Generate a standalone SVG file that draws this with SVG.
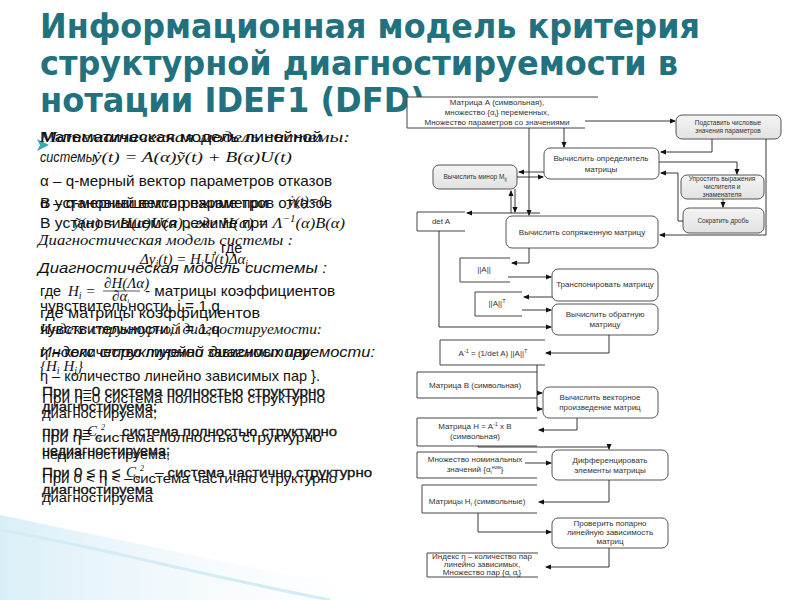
<svg xmlns="http://www.w3.org/2000/svg" width="800" height="600" viewBox="0 0 800 600">
<defs>
<marker id="ah" markerWidth="6" markerHeight="6" refX="5" refY="3" orient="auto" markerUnits="userSpaceOnUse"><path d="M0,0.5 L6,3 L0,5.5 Z" fill="#111"/></marker>
<linearGradient id="gbox" x1="0" y1="0" x2="0" y2="1"><stop offset="0" stop-color="#f4f4f4"/><stop offset="1" stop-color="#e2e2e2"/></linearGradient>
<linearGradient id="swoosh" x1="0" y1="0" x2="1" y2="0"><stop offset="0" stop-color="#bfe3f1"/><stop offset="1" stop-color="#ffffff" stop-opacity="0"/></linearGradient>
</defs>
<style>
.title{font-family:"DejaVu Sans",sans-serif;font-weight:bold;font-size:33px;fill:#21717e}
.t{font-family:"Liberation Sans",Arial,sans-serif;font-size:14.5px;fill:#111}
.ti{font-family:"Liberation Sans",Arial,sans-serif;font-size:15px;font-style:italic;fill:#111}
.m{font-family:"Liberation Serif","Times New Roman",serif;font-style:italic;font-size:15px;fill:#111}
.s{font-family:"Liberation Sans",Arial,sans-serif;font-size:13px;fill:#111}
.sb{font-family:"Liberation Sans",Arial,sans-serif;font-size:13px;fill:#111;stroke:#111;stroke-width:0.3}
.box{fill:#fff;stroke:#555;stroke-width:1}
.gbox{fill:url(#gbox);stroke:#555;stroke-width:1}
.store{fill:none;stroke:#444;stroke-width:1}
.lb{font-family:"Liberation Sans",Arial,sans-serif;font-size:8px;fill:#333;text-anchor:middle}
.lbs{font-family:"Liberation Sans",Arial,sans-serif;font-size:6.5px;fill:#333;text-anchor:middle}
.c{fill:none;stroke:#222;stroke-width:0.9;marker-end:url(#ah)}
</style>

<rect x="0" y="0" width="800" height="600" fill="#fff"/>

<!-- decorative swoosh -->
<path d="M0,515 C120,540 260,570 420,600 L0,600 Z" fill="url(#swoosh)" opacity="0.6"/>
<path d="M0,530 C90,545 200,575 330,600" fill="none" stroke="#d3ecf5" stroke-width="3"/>

<!-- title -->
<text class="title" x="40" y="38" textLength="660" lengthAdjust="spacingAndGlyphs">Информационная модель критерия</text>
<text class="title" x="40" y="75" textLength="638" lengthAdjust="spacingAndGlyphs">структурной диагностируемости в</text>
<text class="title" x="40" y="112" textLength="385" lengthAdjust="spacingAndGlyphs">нотации IDEF1 (DFD)</text>

<!-- left body text -->
<g id="body">
<path d="M37,139 L49,145 L37,151 L40,145 Z" fill="#3aa6b9"/>
<text class="m" x="40" y="142" textLength="310" lengthAdjust="spacingAndGlyphs">Математическая модель системы:</text>
<text class="t" x="40" y="142" textLength="282" lengthAdjust="spacingAndGlyphs">Математическая модель линейной</text>
<text class="ti" x="40" y="162" textLength="55" lengthAdjust="spacingAndGlyphs">системы</text>
<text class="m" x="93" y="162" textLength="199" lengthAdjust="spacingAndGlyphs">ẏ(t) = A(α)ỹ(t) + B(α)U(t)</text>
<text class="t" x="40" y="186" textLength="292" lengthAdjust="spacingAndGlyphs">α – q-мерный вектор параметров отказов</text>
<text class="t" x="40" y="208" textLength="292" lengthAdjust="spacingAndGlyphs">α – q-мерный вектор параметров отказов</text>
<text class="t" x="40" y="208" textLength="228" lengthAdjust="spacingAndGlyphs">В установившемся режиме при</text>
<text class="m" x="288" y="206">ẏ(t)=0</text>
<text class="t" x="40" y="228" textLength="228" lengthAdjust="spacingAndGlyphs">В установившемся режиме при</text>
<text class="m" x="73" y="228" textLength="272" lengthAdjust="spacingAndGlyphs">ỹ(α) = H(α)U(α) , где H(α) = Λ<tspan font-size="10" dy="-6">−1</tspan><tspan dy="6">(α)B(α)</tspan></text>
<text class="m" x="38" y="245" textLength="255" lengthAdjust="spacingAndGlyphs">Диагностическая модель системы :</text>
<text class="t" x="213" y="253" font-size="12">, где</text>
<text class="m" x="140" y="264">Δy<tspan font-size="10" dy="3">i</tspan><tspan dy="-3">(t) = H</tspan><tspan font-size="10" dy="3">i</tspan><tspan dy="-3">U(t)Δα</tspan><tspan font-size="10" dy="3">i</tspan></text>
<text class="ti" x="38" y="273" textLength="289" lengthAdjust="spacingAndGlyphs">Диагностическая модель системы :</text>
<text class="t" x="40" y="296">где</text>
<text class="m" x="68" y="296">H<tspan font-size="10" dy="3">i</tspan><tspan dy="-3"> =</tspan></text>
<text class="m" x="104" y="288" font-size="10">∂H(Λα)</text>
<line x1="103" y1="291" x2="140" y2="291" stroke="#111" stroke-width="0.7"/>
<text class="m" x="112" y="301" font-size="10">∂α<tspan font-size="7" dy="2">i</tspan></text>
<text class="t" x="145" y="296" textLength="190" lengthAdjust="spacingAndGlyphs">- матрицы коэффициентов</text>
<text class="t" x="40" y="311" textLength="180" lengthAdjust="spacingAndGlyphs">чувствительности, i = 1,q</text>
<text class="t" x="40" y="318" textLength="220" lengthAdjust="spacingAndGlyphs">где     матрицы коэффициентов</text>
<text class="t" x="40" y="334" textLength="180" lengthAdjust="spacingAndGlyphs">чувствительности, i = 1,q</text>
<text class="m" x="40" y="334" textLength="282" lengthAdjust="spacingAndGlyphs">Индекс структурной диагностируемости:</text>
<text class="ti" x="40" y="357" textLength="335" lengthAdjust="spacingAndGlyphs">Индекс структурной диагностируемости:</text>
<text class="t" x="40" y="357" textLength="270" lengthAdjust="spacingAndGlyphs">η – количество линейно зависимых пар</text>
<text class="m" x="40" y="371">{H<tspan font-size="10" dy="3">i</tspan><tspan dy="-3"> H</tspan><tspan font-size="10" dy="3">j</tspan><tspan dy="-3">}</tspan></text>
<text class="t" x="40" y="381" textLength="280" lengthAdjust="spacingAndGlyphs">η – количество линейно зависимых пар }.</text>

<text class="sb" x="42" y="396" textLength="283" lengthAdjust="spacingAndGlyphs">При η=0  система полностью структурно</text>
<text class="s" x="42" y="403" textLength="283" lengthAdjust="spacingAndGlyphs">При η=0  система полностью структурно</text>
<text class="sb" x="42" y="411" textLength="115" lengthAdjust="spacingAndGlyphs">диагностируема;</text>
<text class="s" x="42" y="418" textLength="115" lengthAdjust="spacingAndGlyphs">диагностируема;</text>
<text class="sb" x="42" y="436" textLength="50" lengthAdjust="spacingAndGlyphs">при η=</text>
<text class="m" x="87" y="436" font-size="12">C<tspan font-size="8" dy="3">q</tspan><tspan font-size="8" dy="-9">2</tspan></text>
<text class="sb" x="122" y="436" textLength="215" lengthAdjust="spacingAndGlyphs">система полностью структурно</text>
<text class="s" x="42" y="442" textLength="280" lengthAdjust="spacingAndGlyphs">при η=  система полностью структурно</text>
<text class="sb" x="42" y="455" textLength="128" lengthAdjust="spacingAndGlyphs">недиагностируема;</text>
<text class="s" x="42" y="459" textLength="128" lengthAdjust="spacingAndGlyphs">недиагностируема;</text>
<text class="sb" x="42" y="477" textLength="78" lengthAdjust="spacingAndGlyphs">При 0 ≤ η ≤</text>
<text class="m" x="126" y="477" font-size="12">C<tspan font-size="8" dy="3">q</tspan><tspan font-size="8" dy="-9">2</tspan></text>
<text class="sb" x="155" y="477" textLength="217" lengthAdjust="spacingAndGlyphs">– система частично структурно</text>
<text class="s" x="42" y="483" textLength="295" lengthAdjust="spacingAndGlyphs">При 0 &lt; η &lt;  –система частично структурно</text>
<text class="sb" x="42" y="494" textLength="111" lengthAdjust="spacingAndGlyphs">диагностируема</text>
<text class="s" x="42" y="502" textLength="111" lengthAdjust="spacingAndGlyphs">диагностируема</text>
</g>

<!-- diagram nodes -->
<g id="matA">
<rect x="407" y="97" width="191" height="31" fill="#fff"/>
<path class="store" d="M598,97 H407 V128 H585"/>
<text class="lb" x="497" y="105">Матрица А (символьная),</text>
<text class="lb" x="497" y="115">множество {α<tspan font-size="5.5" dy="1.5">i</tspan><tspan dy="-1.5">} переменных,</tspan></text>
<text class="lb" x="497" y="125">Множество параметров со значениями</text>
</g>
<g id="podstavit">
<rect class="gbox" x="676" y="115" width="105" height="24" rx="6"/>
<text class="lbs" x="728" y="125">Подставить числовые</text>
<text class="lbs" x="728" y="133">значения параметров</text>
</g>
<g id="det">
<rect class="box" x="544" y="148" width="115" height="31" rx="6"/>
<text class="lb" x="601" y="161">Вычислить определитель</text>
<text class="lb" x="601" y="172">матрицы</text>
</g>
<g id="minor">
<rect class="gbox" x="433" y="165" width="84" height="24" rx="6"/>
<text class="lbs" x="475" y="179">Вычислить минор M<tspan font-size="5" dy="1.5">ij</tspan></text>
</g>
<g id="uprostit">
<rect class="gbox" x="681" y="175" width="83" height="24" rx="6"/>
<text class="lbs" x="722" y="181">Упростить выражения</text>
<text class="lbs" x="722" y="189">числителя и</text>
<text class="lbs" x="722" y="197">знаменателя</text>
</g>
<g id="sokratit">
<rect class="gbox" x="683" y="208" width="81" height="25" rx="6"/>
<text class="lbs" x="723" y="223">Сократить дробь</text>
</g>
<g id="detA">
<path class="store" d="M465,212 H417 V231 H465"/>
<text class="lb" x="441" y="224">det A</text>
</g>
<g id="sopr">
<rect class="box" x="506" y="216" width="152" height="32" rx="6"/>
<text class="lb" x="582" y="235">Вычислить сопряженную матрицу</text>
</g>
<g id="normA">
<path class="store" d="M510,258 H460 V282 H510"/>
<text class="lb" x="484" y="272">||A||</text>
</g>
<g id="transp">
<rect class="box" x="552" y="269" width="106" height="32" rx="6"/>
<text class="lb" x="605" y="287">Транспонировать матрицу</text>
</g>
<g id="normAT">
<path class="store" d="M522,292 H475 V316 H522"/>
<text class="lb" x="497" y="306">||A||<tspan font-size="5.5" dy="-3">T</tspan></text>
</g>
<g id="obr">
<rect class="box" x="552" y="304" width="106" height="31" rx="6"/>
<text class="lb" x="605" y="317">Вычислить обратную</text>
<text class="lb" x="605" y="327">матрицу</text>
</g>
<g id="invA">
<path class="store" d="M545,340 H440 V365 H545"/>
<text class="lb" x="493" y="356">A<tspan font-size="5.5" dy="-3">-1</tspan><tspan dy="3"> = (1/det A) ||A||</tspan><tspan font-size="5.5" dy="-3">T</tspan></text>
</g>
<g id="matB">
<path class="store" d="M537,372 H417 V398 H537"/>
<text class="lb" x="475" y="388">Матрица В (символьная)</text>
</g>
<g id="vector">
<rect class="box" x="543" y="387" width="115" height="31" rx="6"/>
<text class="lb" x="600" y="400">Вычислить векторное</text>
<text class="lb" x="600" y="410">произведение матриц</text>
</g>
<g id="matH">
<path class="store" d="M537,418 H417 V446 H537"/>
<text class="lb" x="475" y="429">Матрица H = A<tspan font-size="5.5" dy="-3">-1</tspan><tspan dy="3"> x B</tspan></text>
<text class="lb" x="475" y="439">(символьная)</text>
</g>
<g id="nominal">
<path class="store" d="M537,452 H417 V478 H537"/>
<text class="lb" x="475" y="462">Множество номинальных</text>
<text class="lb" x="475" y="472">значений {α<tspan font-size="5" dy="1.5">i</tspan><tspan font-size="5" dy="-4.5">ном</tspan><tspan dy="3">}</tspan></text>
</g>
<g id="diff">
<rect class="box" x="552" y="450" width="116" height="30" rx="6"/>
<text class="lb" x="610" y="463">Дифференцировать</text>
<text class="lb" x="610" y="473">элементы матрицы</text>
</g>
<g id="matHi">
<path class="store" d="M537,485 H422 V513 H537"/>
<text class="lb" x="477" y="504">Матрицы H<tspan font-size="5.5" dy="1.5">i</tspan><tspan dy="-1.5"> (символьные)</tspan></text>
</g>
<g id="check">
<rect class="box" x="552" y="518" width="116" height="30" rx="6"/>
<text class="lb" x="610" y="526">Проверить попарно</text>
<text class="lb" x="610" y="535">линейную зависимость</text>
<text class="lb" x="610" y="544">матриц</text>
</g>
<g id="index">
<path class="store" d="M538,553 H427 V577 H538"/>
<text class="lb" x="482" y="559">Индекс  η – количество пар</text>
<text class="lb" x="482" y="567">линейно зависимых,</text>
<text class="lb" x="482" y="575">Множество пар {α<tspan font-size="5" dy="1.5">i</tspan><tspan dy="-1.5"> α</tspan><tspan font-size="5" dy="1.5">j</tspan><tspan dy="-1.5">}</tspan></text>
</g>

<!-- connectors -->
<g id="connectors">
<path class="c" d="M585,121 H675"/>
<path class="c" d="M564,128 V147"/>
<path class="c" d="M529,128 V215"/>
<path class="c" d="M712,139 V152 H661"/>
<path class="c" d="M766,139 V235 H660"/>
<path class="c" d="M659,162 H737 V174"/>
<path class="c" d="M683,221 H678 V173 H661"/>
<path class="c" d="M723,199 V207"/>
<path class="c" d="M544,172 H519"/>
<path class="c" d="M517,177 H543"/>
<path class="c" d="M515,189 V212"/>
<path class="c" d="M511,213 V191"/>
<path class="c" d="M540,213 H467"/>
<path class="c" d="M529,248 V263 H512"/>
<path class="c" d="M508,277 H551"/>
<path class="c" d="M552,297 H524"/>
<path class="c" d="M522,310 H551"/>
<path class="c" d="M439,231 V327 H551"/>
<path class="c" d="M609,335 V353 H546"/>
<path class="c" d="M537,365 V409 H542"/>
<path class="c" d="M537,393 H542"/>
<path class="c" d="M577,418 V430 H539"/>
<path class="c" d="M478,446 V447 H609 V449"/>
<path class="c" d="M525,463 H551"/>
<path class="c" d="M609,480 V502 H539"/>
<path class="c" d="M478,513 V532 H551"/>
<path class="c" d="M609,548 V567 H546"/>
</g>
</svg>
